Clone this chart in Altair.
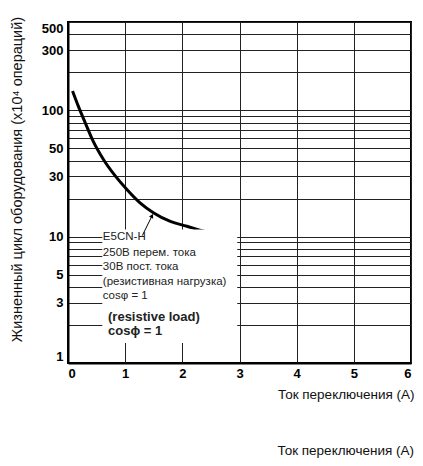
import altair as alt
import pandas as pd

# Curve: switching current (A) vs. life (x10^4 operations)
CURRENT_A = [0.08, 0.18, 0.30, 0.44, 0.62, 0.83, 1.03, 1.26, 1.50, 1.79, 2.08, 2.32, 2.55]
LIFE = [142, 108, 80, 57, 40.8, 30.1, 23.6, 18.5, 15.4, 13.2, 12.1, 11.2, 10.6]

Y_GRID = [1, 2, 3, 4, 5, 6, 7, 8, 9, 10, 20, 30, 40, 50, 60, 70, 80, 90, 100, 200, 300, 400, 500]
Y_LABELS = [1, 3, 5, 10, 30, 50, 100, 300, 500]
X_TICKS = [0, 1, 2, 3, 4, 5, 6]

NOTE_LINES = ["E5CN-H", "250В перем. тока", "30В пост. тока", "(резистивная нагрузка)", "cosφ = 1"]
NOTE_Y = [10.0, 7.46, 5.78, 4.39, 3.40]
NOTE_X = 0.61
BOLD_LINES = ["(resistive load)", "cosϕ = 1"]
BOLD_Y = [2.32, 1.80]
BOLD_X = 0.70

BOX_X = [0.60, 2.96]
BOX_Y = [1.44, 11.4]
ARROW_X = [1.30, 1.47]
ARROW_Y = [10.2, 14.6]

Y_TITLE = "Жизненный цикл оборудования (x10⁴ операций)"
X_TITLE = "Ток переключения (А)"

FONT = "Liberation Sans"

xs = alt.Scale(domain=[0, 6], nice=False, zero=False)
ys = alt.Scale(type="log", domain=[1, 500], nice=False)

label_list = "[" + ",".join(str(v) for v in Y_LABELS) + "]"

x_enc = alt.X(
    "x:Q", scale=xs,
    axis=alt.Axis(
        values=X_TICKS, grid=True, ticks=False, labelFlush=True,
        labelPadding=4, format="d",
        title=X_TITLE, titleX=346, titleY=31, titleAlign="right",
        titleBaseline="middle", titleFontWeight="normal", titleFontSize=13.5,
        titleFont=FONT, titleColor="#111",
    ),
)
y_enc = alt.Y(
    "y:Q", scale=ys,
    axis=alt.Axis(
        values=Y_GRID, grid=True, ticks=False, labelFlush=True,
        labelOverlap=False, labelPadding=5,
        labelExpr="indexof(" + label_list + ", datum.value) >= 0 ? format(datum.value, 'd') : ''",
        title=Y_TITLE, titleX=-51, titleY=157, titleAngle=-90, titleAlign="center",
        titleBaseline="middle", titleFontWeight="normal", titleFontSize=14.5,
        titleFont=FONT, titleColor="#111",
    ),
)

curve_df = pd.DataFrame({"x": CURRENT_A, "y": LIFE})
curve = alt.Chart(curve_df).mark_line(
    color="black", strokeWidth=3, interpolate="monotone", clip=True
).encode(x=x_enc, y=y_enc)

box_df = pd.DataFrame({"x": [BOX_X[0]], "x2": [BOX_X[1]], "y": [BOX_Y[0]], "y2": [BOX_Y[1]]})
box = alt.Chart(box_df).mark_rect(color="white").encode(
    x=x_enc, x2="x2:Q", y=y_enc, y2="y2:Q"
)

arrow_df = pd.DataFrame({"x": ARROW_X, "y": ARROW_Y})
arrow_line = alt.Chart(arrow_df).mark_line(color="black", strokeWidth=1).encode(x=x_enc, y=y_enc)
head_df = pd.DataFrame({"x": [ARROW_X[1]], "y": [ARROW_Y[1]]})
arrow_head = alt.Chart(head_df).mark_point(
    shape="triangle-up", filled=True, color="black", size=22, angle=28, opacity=1
).encode(x=x_enc, y=y_enc)

note_df = pd.DataFrame({"x": [NOTE_X] * len(NOTE_LINES), "y": NOTE_Y, "t": NOTE_LINES})
notes = alt.Chart(note_df).mark_text(
    align="left", baseline="middle", font=FONT, fontSize=11.5, color="#222"
).encode(x=x_enc, y=y_enc, text="t:N")

bold_df = pd.DataFrame({"x": [BOLD_X] * len(BOLD_LINES), "y": BOLD_Y, "t": BOLD_LINES})
bold_notes = alt.Chart(bold_df).mark_text(
    align="left", baseline="middle", font=FONT, fontSize=13, fontWeight="bold", color="#222"
).encode(x=x_enc, y=y_enc, text="t:N")

title2 = alt.Chart(pd.DataFrame({"t": [X_TITLE]})).mark_text(
    align="right", baseline="alphabetic", font=FONT, fontSize=13.5, color="#111"
).encode(x=alt.value(346), y=alt.value(433), text="t:N")

chart = alt.layer(curve, box, arrow_line, arrow_head, notes, bold_notes, title2).properties(
    width=343, height=341,
    autosize=alt.AutoSizeParams(type="none"),
    padding={"left": 60, "top": 14, "right": 4, "bottom": 95},
).configure_view(
    stroke="black", strokeWidth=2
).configure_axis(
    domainColor="black", domainWidth=2, gridColor="#222", gridWidth=1, gridOpacity=1,
    labelFont=FONT, labelFontSize=13, labelFontWeight="bold", labelColor="black",
)

chart.save("out.html", embed_options={"renderer": "svg", "actions": False})
